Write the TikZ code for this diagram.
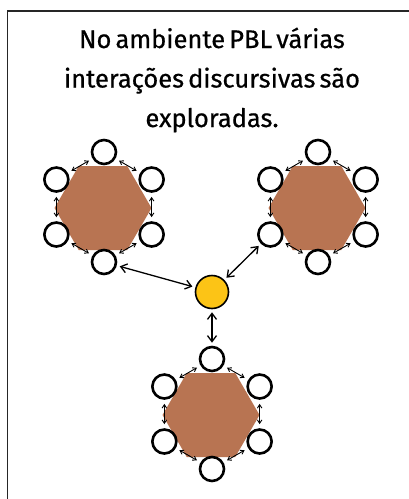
\documentclass[tikz,border=0pt]{standalone}
\usepackage{fontspec}
\setmainfont{Fira Sans}[FakeBold=0.6]
\usetikzlibrary{arrows.meta,shapes.geometric}
\definecolor{hexbrown}{RGB}{184,116,82}
\definecolor{sunyellow}{RGB}{252,196,22}
\newcommand\titlefont{\fontsize{25.5}{39.5}\selectfont\spaceskip=0.16em plus 0.05em\relax}
\tikzset{
  member/.style={circle, draw, line width=2.6pt, minimum size=24pt, inner sep=0pt, fill=white},
  hexgroup/.style={regular polygon, regular polygon sides=6, fill=hexbrown, minimum size=97pt, inner sep=0pt},
  talk/.style={{Straight Barb[length=3.5pt,width=4.5pt]}-{Straight Barb[length=3.5pt,width=4.5pt]}, line width=0.9pt, shorten <=4pt, shorten >=4pt},
  link/.style={{Straight Barb[length=6pt,width=9pt]}-{Straight Barb[length=6pt,width=9pt]}, line width=1.3pt, shorten <=3pt, shorten >=3pt}
}
\begin{document}
\begin{tikzpicture}[x=1pt,y=-1pt]
    \useasboundingbox (0,0) rectangle (409,499);
    \draw[line width=1.4pt, black!85] (7.5,499) |- (409,11);

    \node[align=center, font=\titlefont, anchor=base] (title) at (212,127)
      {No ambiente PBL várias\\interações discursivas são\\exploradas.};

    % three groups of six around a hexagon
    \foreach \g/\cx/\cy in {L/104/207, R/318/207, B/212/414} {
      \node[hexgroup] (hex\g) at (\cx-1,\cy+1) {};
      \foreach \i/\ang in {1/-90, 2/-30, 3/30, 4/90, 5/150, 6/210} {
        \node[member] (\g\i) at ([shift={(\ang:55)}]\cx,\cy) {};
      }
      \draw[talk] (\g1) -- (\g2);
      \draw[talk] (\g2) -- (\g3);
      \draw[talk] (\g3) -- (\g4);
      \draw[talk] (\g4) -- (\g5);
      \draw[talk] (\g5) -- (\g6);
      \draw[talk] (\g6) -- (\g1);
    }

    \node[circle, draw, line width=1.6pt, fill=sunyellow, minimum size=33pt, inner sep=0pt] (Y) at (212,292) {};

    \draw[link] (Y) -- (L4);
    \draw[link] (Y) -- (R5);
    \draw[link] (Y) -- (B1);
  \end{tikzpicture}
\end{document}
